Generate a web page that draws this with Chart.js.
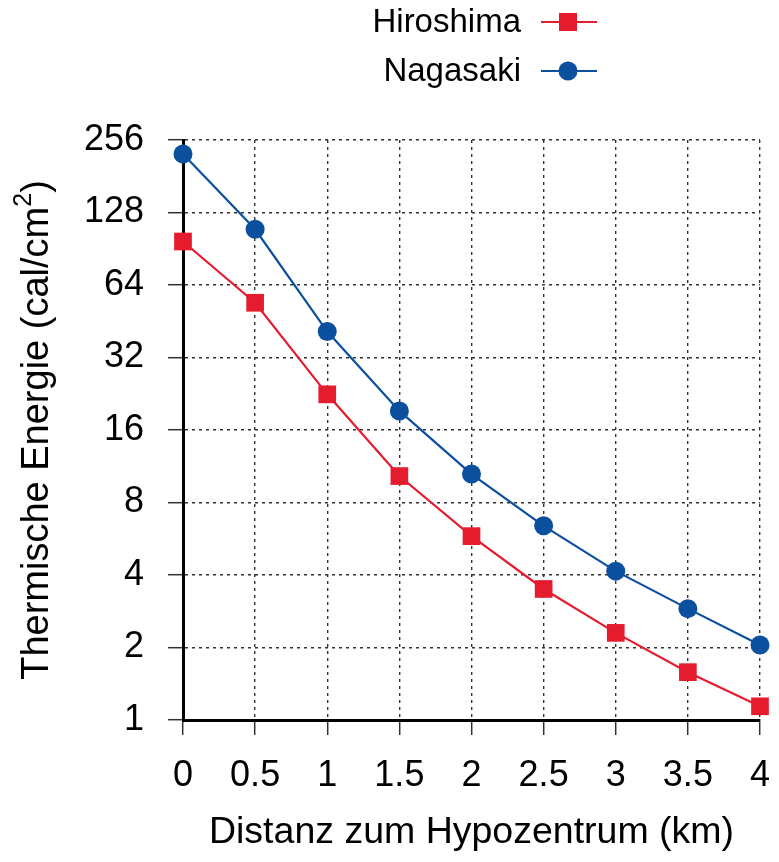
<!DOCTYPE html>
<html>
<head>
<meta charset="utf-8">
<title>Thermische Energie</title>
<script src="https://cdn.jsdelivr.net/npm/chart.js@4.4.1/dist/chart.umd.min.js"></script>
<style>
    html, body { margin: 0; padding: 0; background: #fff; }
    #wrap { width: 779px; height: 862px; }
</style>
</head>
<body>
<div id="wrap"><canvas id="chart"></canvas></div>
<script>
'use strict';

// Distanz (km)
const distances = [0, 0.5, 1, 1.5, 2, 2.5, 3, 3.5, 4];
// cal/cm²
const hiroshima = [97, 54, 22.5, 10.3, 5.8, 3.5, 2.3, 1.58, 1.14];
const nagasaki = [224, 109, 41, 19.2, 10.5, 6.4, 4.15, 2.9, 2.05];

const xTicks = [0, 0.5, 1, 1.5, 2, 2.5, 3, 3.5, 4];
const yTicks = [1, 2, 4, 8, 16, 32, 64, 128, 256];

const seriesNames = ['Hiroshima', 'Nagasaki'];
const xTitle = 'Distanz zum Hypozentrum (km)';
const yTitle = ['Thermische Energie (cal/cm', '2', ')'];

const RED = '#e51b2e';
const BLUE = '#0b4f9f';
const FONT = 'Liberation Sans, Arial, Helvetica, sans-serif';

Chart.defaults.font.family = FONT;
Chart.defaults.color = '#000';

function toPoints(xs, ys) {
    return xs.map((x, i) => ({ x: x, y: ys[i] }));
}

// legend drawn by hand: text on the left, line + marker on the right
const sideLegend = {
    id: 'sideLegend',
    afterDraw(chart) {
        const ctx = chart.ctx;
        const items = [
            { text: seriesNames[0], color: RED, style: 'rect', y: 22 },
            { text: seriesNames[1], color: BLUE, style: 'circle', y: 71 }
        ];
        ctx.save();
        ctx.font = '33px ' + FONT;
        ctx.textAlign = 'right';
        ctx.textBaseline = 'middle';
        items.forEach(it => {
            ctx.fillStyle = '#000';
            ctx.fillText(it.text, 521, it.y + 1);
            ctx.strokeStyle = it.color;
            ctx.lineWidth = 2.2;
            ctx.beginPath();
            ctx.moveTo(541, it.y);
            ctx.lineTo(597, it.y);
            ctx.stroke();
            ctx.fillStyle = it.color;
            if (it.style === 'rect') {
                ctx.fillRect(568 - 9, it.y - 9, 18, 18);
            } else {
                ctx.beginPath();
                ctx.arc(568, it.y, 9.5, 0, Math.PI * 2);
                ctx.fill();
            }
        });
        ctx.restore();
    }
};

// y title with a real superscript
const yAxisTitle = {
    id: 'yAxisTitle',
    afterDraw(chart) {
        const ctx = chart.ctx;
        const area = chart.chartArea;
        const big = '38px ' + FONT;
        const small = '25px ' + FONT;
        ctx.save();
        ctx.font = big;
        const w1 = ctx.measureText(yTitle[0]).width;
        const w3 = ctx.measureText(yTitle[2]).width;
        ctx.font = small;
        const w2 = ctx.measureText(yTitle[1]).width;
        const total = w1 + w2 + w3;
        ctx.translate(38, (area.top + area.bottom) / 2);
        ctx.rotate(-Math.PI / 2);
        ctx.fillStyle = '#000';
        ctx.textBaseline = 'middle';
        ctx.textAlign = 'left';
        let x = -total / 2;
        ctx.font = big;
        ctx.fillText(yTitle[0], x, 0);
        x += w1;
        ctx.font = small;
        ctx.fillText(yTitle[1], x, -14);
        x += w2;
        ctx.font = big;
        ctx.fillText(yTitle[2], x, 0);
        ctx.restore();
    }
};

const gridStyle = {
    color: '#333',
    lineWidth: 1.4,
    tickLength: 15,
    tickColor: '#333',
    tickWidth: 1.5
};

const ctx = document.getElementById('chart');

new Chart(ctx, {
    type: 'line',
    data: {
        datasets: [{
            label: seriesNames[0],
            data: toPoints(distances, hiroshima),
            borderColor: RED,
            backgroundColor: RED,
            borderWidth: 2.2,
            pointStyle: 'rect',
            pointRadius: 12.5,
            pointBorderWidth: 0,
            tension: 0,
            clip: false
        }, {
            label: seriesNames[1],
            data: toPoints(distances, nagasaki),
            borderColor: BLUE,
            backgroundColor: BLUE,
            borderWidth: 2.2,
            pointStyle: 'circle',
            pointRadius: 9.5,
            pointBorderWidth: 0,
            tension: 0,
            clip: false
        }]
    },
    options: {
        responsive: true,
        maintainAspectRatio: false,
        animation: false,
        layout: {
            padding: { top: 140, right: 19, left: 0, bottom: 0 }
        },
        plugins: {
            legend: { display: false },
            tooltip: { enabled: false }
        },
        scales: {
            x: {
                type: 'linear',
                min: 0,
                max: 4,
                afterBuildTicks(scale) {
                    scale.ticks = xTicks.map(v => ({ value: v }));
                },
                afterFit(scale) {
                    scale.height = 142;
                    scale.paddingLeft = 0;
                    scale.paddingRight = 0;
                },
                ticks: {
                    autoSkip: false,
                    maxRotation: 0,
                    padding: 19,
                    font: { size: 36 },
                    color: '#000',
                    callback: v => String(v)
                },
                grid: gridStyle,
                border: { display: true, color: '#000', width: 3, dash: [3, 4] },
                title: {
                    display: true,
                    text: xTitle,
                    font: { size: 37.5 },
                    color: '#000',
                    padding: { top: 0, bottom: 7 }
                }
            },
            y: {
                type: 'logarithmic',
                min: 1,
                max: 256,
                afterBuildTicks(scale) {
                    scale.ticks = yTicks.map(v => ({ value: v }));
                },
                afterFit(scale) { scale.width = 183; },
                ticks: {
                    autoSkip: false,
                    padding: 24,
                    font: { size: 36 },
                    color: '#000',
                    callback: v => String(v)
                },
                grid: gridStyle,
                border: { display: true, color: '#000', width: 3, dash: [3, 4] }
            }
        }
    },
    plugins: [sideLegend, yAxisTitle]
});
</script>
</body>
</html>
